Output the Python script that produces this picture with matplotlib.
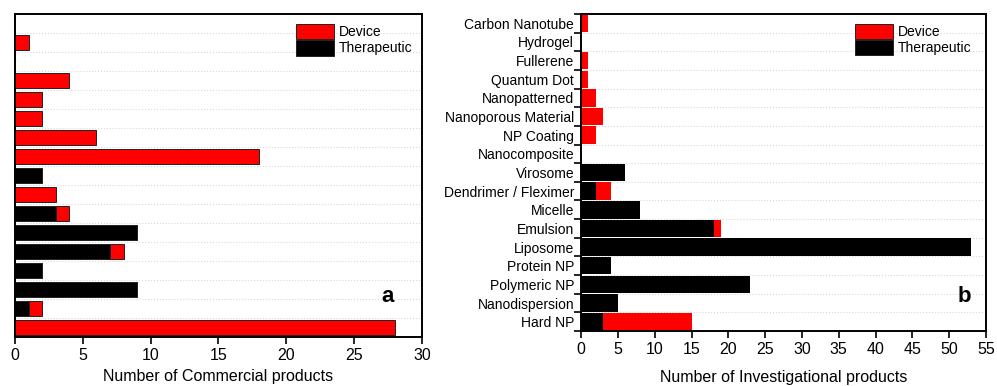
import numpy as np
import matplotlib
matplotlib.use("Agg")
import matplotlib.pyplot as plt
from matplotlib.patches import Patch

plt.rcParams['font.family'] = ['Liberation Sans', 'DejaVu Sans']

categories = ['Carbon Nanotube', 'Hydrogel', 'Fullerene', 'Quantum Dot',
              'Nanopatterned', 'Nanoporous Material', 'NP Coating',
              'Nanocomposite', 'Virosome', 'Dendrimer / Fleximer', 'Micelle',
              'Emulsion', 'Liposome', 'Protein NP', 'Polymeric NP',
              'Nanodispersion', 'Hard NP']

# commercial products (panel a)
comm_therapeutic = [0, 0, 0, 0, 0, 0, 0, 0, 2, 0, 3, 9, 7, 2, 9, 1, 0]
comm_device = [0, 1, 0, 4, 2, 2, 6, 18, 0, 3, 1, 0, 1, 0, 0, 1, 28]

# investigational products (panel b)
inv_therapeutic = [0, 0, 0, 0, 0, 0, 0, 0, 6, 2, 8, 18, 53, 4, 23, 5, 3]
inv_device = [1, 0, 1, 1, 2, 3, 2, 0, 0, 2, 0, 1, 0, 0, 0, 0, 12]

RED = '#ff0000'
BLACK = '#000000'

fig = plt.figure(figsize=(9.97, 3.86), dpi=100)
ax1 = fig.add_axes([0.015, 0.127, 0.4083, 0.8367])
ax2 = fig.add_axes([0.5828, 0.1425, 0.4062, 0.8212])

y = np.arange(len(categories))


def style(ax, xmax, step):
    ax.set_ylim(len(categories) - 0.5, -0.5)
    ax.set_xlim(0, xmax)
    ax.set_xticks(np.arange(0, xmax + 1, step))
    ax.set_yticks(np.arange(len(categories) + 1) - 0.5, minor=True)
    ax.grid(axis='y', which='minor', color='#d8d8d8', ls=':', lw=0.8)
    ax.set_axisbelow(True)
    for s in ax.spines.values():
        s.set_linewidth(1.4)
    ax.tick_params(axis='x', direction='out', length=5, width=1.2,
                   labelsize=11.5, pad=3)


# panel a
ax1.barh(y, comm_therapeutic, height=0.82, color=BLACK, edgecolor='#222222', lw=0.7)
ax1.barh(y, comm_device, left=comm_therapeutic, height=0.82, color=RED,
         edgecolor='#222222', lw=0.7)
style(ax1, 30, 5)
ax1.set_yticks([])
ax1.tick_params(axis='y', which='minor', length=0)
ax1.set_xlabel('Number of Commercial products', fontsize=11.5, labelpad=4.5)
ax1.text(0.915, 0.125, 'a', transform=ax1.transAxes, fontsize=16,
         fontweight='bold', ha='center', va='center')

# panel b
ax2.barh(y, inv_therapeutic, height=0.94, color=BLACK, lw=0)
ax2.barh(y, inv_device, left=inv_therapeutic, height=0.94, color=RED, lw=0)
style(ax2, 55, 5)
ax2.set_yticks(y)
ax2.set_yticklabels(categories)
ax2.tick_params(axis='y', which='major', length=0, labelsize=10, pad=5)
ax2.tick_params(axis='y', which='minor', direction='out', length=5, width=1.2)
ax2.set_xlabel('Number of Investigational products', fontsize=11.5, labelpad=9)
ax2.text(0.947, 0.11, 'b', transform=ax2.transAxes, fontsize=16,
         fontweight='bold', ha='center', va='center')

handles = [Patch(facecolor=RED, edgecolor='#222222', lw=0.7, label='Device'),
           Patch(facecolor=BLACK, edgecolor='#222222', lw=0.7, label='Therapeutic')]
for ax, x0 in ((ax1, 0.69), (ax2, 0.6765)):
    ax.legend(handles=handles, loc='upper left', bbox_to_anchor=(x0, 0.97),
              frameon=False, fontsize=10, borderpad=0, borderaxespad=0,
              handlelength=2.75, handleheight=1.35, labelspacing=0.05,
              handletextpad=0.35)

fig.savefig('out.png', dpi=100)
